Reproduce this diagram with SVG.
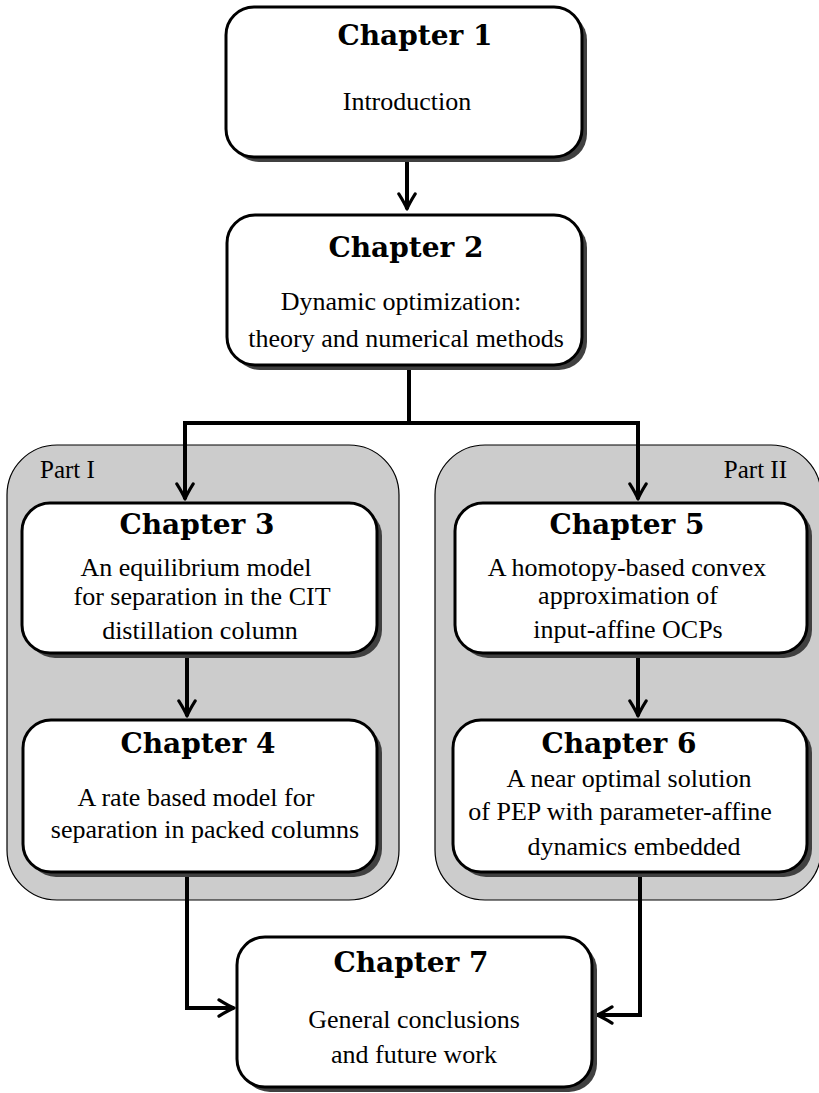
<svg xmlns="http://www.w3.org/2000/svg" width="819" height="1093" viewBox="0 0 819 1093">
<defs>
<style>
.panel{fill:#cccccc;stroke:#000;stroke-width:1.2}
.shadow{fill:#404040;stroke:none}
.box{fill:#fff;stroke:#000;stroke-width:3}
.title{font-family:"DejaVu Serif",serif;font-weight:bold;font-size:28px;text-anchor:middle;fill:#000}
.body{font-family:"Liberation Serif","Times New Roman",serif;font-size:26px;text-anchor:middle;fill:#000}
.part{font-family:"Liberation Serif","Times New Roman",serif;font-size:25px;fill:#000}
.conn{fill:none;stroke:#000;stroke-width:4;stroke-linejoin:miter}
</style>
<marker id="arr" markerUnits="userSpaceOnUse" markerWidth="20" markerHeight="20" viewBox="-14 -8 16 16" refX="0" refY="0" orient="auto">
<path d="M-12,-6.5 Q-4,-1.5 0,0 Q-4,1.5 -12,6.5" fill="none" stroke="#000" stroke-width="2.6" stroke-linecap="round" stroke-linejoin="round"/>
</marker>
</defs>
<rect width="819" height="1093" fill="#fff"/>

<g id="part1">
<rect class="panel" x="7" y="445" width="392" height="455" rx="50" ry="50"/>
<text class="part" x="40" y="478">Part I</text>
</g>
<g id="part2">
<rect class="panel" x="435" y="445" width="386" height="455" rx="50" ry="50"/>
<text class="part" x="787" y="478" text-anchor="end">Part II</text>
</g>

<g id="connectors">
<path class="conn" d="M407,157 V209" marker-end="url(#arr)"/>
<path class="conn" d="M409,365 V423 H185 V499" marker-end="url(#arr)"/>
<path class="conn" d="M409,423 H638 V499" marker-end="url(#arr)"/>
<path class="conn" d="M187,653 V716" marker-end="url(#arr)"/>
<path class="conn" d="M638,653 V716" marker-end="url(#arr)"/>
<path class="conn" d="M187,872 V1008 H234" marker-end="url(#arr)"/>
<path class="conn" d="M640,872 V1015 H597" marker-end="url(#arr)"/>
</g>

<g id="ch1">
<rect class="shadow" x="231" y="12" width="356" height="150" rx="28"/>
<rect class="box" x="226" y="7" width="356" height="150" rx="28"/>
<text class="title" x="415" y="45">Chapter 1</text>
<text class="body" x="407" y="110">Introduction</text>
</g>

<g id="ch2">
<rect class="shadow" x="232" y="220" width="355" height="150" rx="28"/>
<rect class="box" x="227" y="215" width="355" height="150" rx="28"/>
<text class="title" x="406" y="257">Chapter 2</text>
<text class="body" x="401" y="310">Dynamic optimization:</text>
<text class="body" x="406" y="347">theory and numerical methods</text>
</g>

<g id="ch3">
<rect class="shadow" x="27" y="508" width="355" height="150" rx="28"/>
<rect class="box" x="22" y="503" width="355" height="150" rx="28"/>
<text class="title" x="197" y="534">Chapter 3</text>
<text class="body" x="196" y="576">An equilibrium model</text>
<text class="body" x="202" y="605">for separation in the CIT</text>
<text class="body" x="200" y="639">distillation column</text>
</g>

<g id="ch4">
<rect class="shadow" x="28" y="725" width="354" height="152" rx="28"/>
<rect class="box" x="23" y="720" width="354" height="152" rx="28"/>
<text class="title" x="198" y="753">Chapter 4</text>
<text class="body" x="196" y="806">A rate based model for</text>
<text class="body" x="205" y="838">separation in packed columns</text>
</g>

<g id="ch5">
<rect class="shadow" x="460" y="508" width="352" height="150" rx="28"/>
<rect class="box" x="455" y="503" width="352" height="150" rx="28"/>
<text class="title" x="627" y="534">Chapter 5</text>
<text class="body" x="627" y="576">A homotopy-based convex</text>
<text class="body" x="628" y="604">approximation of</text>
<text class="body" x="628" y="638">input-affine OCPs</text>
</g>

<g id="ch6">
<rect class="shadow" x="458" y="725" width="354" height="152" rx="28"/>
<rect class="box" x="453" y="720" width="354" height="152" rx="28"/>
<text class="title" x="619" y="753">Chapter 6</text>
<text class="body" x="629" y="787">A near optimal solution</text>
<text class="body" x="620" y="820">of PEP with parameter-affine</text>
<text class="body" x="634" y="855">dynamics embedded</text>
</g>

<g id="ch7">
<rect class="shadow" x="242" y="942" width="355" height="150" rx="28"/>
<rect class="box" x="237" y="937" width="355" height="150" rx="28"/>
<text class="title" x="411" y="972">Chapter 7</text>
<text class="body" x="414" y="1028">General conclusions</text>
<text class="body" x="414" y="1063">and future work</text>
</g>
</svg>
